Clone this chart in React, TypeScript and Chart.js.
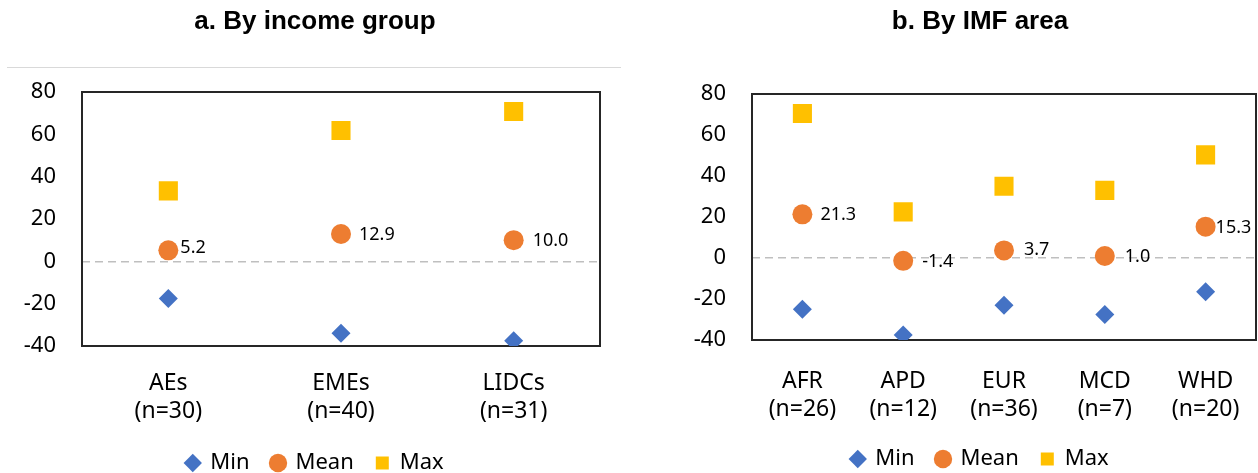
import React, { useEffect, useRef } from 'react';
import { Chart, registerables } from 'chart.js';

Chart.register(...registerables);

// ---------- data ----------
const seriesNames = ['Min', 'Mean', 'Max'];
const yMin = -40;
const yMax = 80;
const yStep = 20;

const incomeTitle = 'a. By income group';
const incomeCategories = ['AEs', 'EMEs', 'LIDCs'];
const incomeCounts = ['(n=30)', '(n=40)', '(n=31)'];
const incomeMin = [-17.5, -34.0, -37.5];
const incomeMean = [5.2, 12.9, 10.0];
const incomeMax = [33.3, 61.8, 70.8];

const areaTitle = 'b. By IMF area';
const areaCategories = ['AFR', 'APD', 'EUR', 'MCD', 'WHD'];
const areaCounts = ['(n=26)', '(n=12)', '(n=36)', '(n=7)', '(n=20)'];
const areaMin = [-25.0, -37.5, -23.0, -27.5, -16.5];
const areaMean = [21.3, -1.4, 3.7, 1.0, 15.3];
const areaMax = [70.5, 22.5, 35.0, 33.0, 50.3];

// ---------- styles ----------
const COLORS = ['#4472C4', '#ED7D31', '#FFC000'];
const STYLES = ['rectRot', 'circle', 'rect'];
const RADII = [9.5, 10, 13.5];
const FONT = "'Noto Sans', 'Open Sans', sans-serif";

type PanelCfg = {
  title: string;
  categories: string[];
  counts: string[];
  min: number[];
  mean: number[];
  max: number[];
  width: number;
  height: number;
  left: number;
  yAxisWidth: number;
  rightWidth: number;
  titleBox: number;
  xAxisHeight: number;
  xTickPadding: number;
  labelDx: number[];
  labelDy: number[];
  rule: boolean;
};

const panels: PanelCfg[] = [
  {
    title: incomeTitle,
    categories: incomeCategories,
    counts: incomeCounts,
    min: incomeMin,
    mean: incomeMean,
    max: incomeMax,
    width: 630,
    height: 484,
    left: 0,
    yAxisWidth: 82,
    rightWidth: 30,
    titleBox: 92,
    xAxisHeight: 84,
    xTickPadding: 23,
    labelDx: [12, 18, 19],
    labelDy: [-2, 1, 1],
    rule: true,
  },
  {
    title: areaTitle,
    categories: areaCategories,
    counts: areaCounts,
    min: areaMin,
    mean: areaMean,
    max: areaMax,
    width: 700,
    height: 480,
    left: 630,
    yAxisWidth: 122,
    rightWidth: 74,
    titleBox: 94,
    xAxisHeight: 86,
    xTickPadding: 27,
    labelDx: [18, 19, 20, 20, 10],
    labelDy: [1, 1, -1, 1, 1],
    rule: false,
  },
];

function Panel({ cfg }: { cfg: PanelCfg }) {
  const ref = useRef<HTMLCanvasElement | null>(null);

  useEffect(() => {
    if (!ref.current) return;
    const values = [cfg.min, cfg.mean, cfg.max];
    const titleFontSize = 26;
    const titleLH = titleFontSize * 1.2;
    const titleTop = 22 - titleLH / 2;

    const framePlugin = {
      id: 'frame',
      beforeDatasetsDraw(chart: any) {
        const { ctx, chartArea } = chart;
        ctx.save();
        ctx.strokeStyle = '#262626';
        ctx.lineWidth = 2;
        ctx.strokeRect(chartArea.left, chartArea.top, chartArea.right - chartArea.left, chartArea.bottom - chartArea.top);
        ctx.restore();
      },
      afterDraw(chart: any) {
        if (!cfg.rule) return;
        const { ctx } = chart;
        ctx.save();
        ctx.strokeStyle = '#D9D9D9';
        ctx.lineWidth = 1;
        ctx.beginPath();
        ctx.moveTo(7, 67.5);
        ctx.lineTo(621, 67.5);
        ctx.stroke();
        ctx.restore();
      },
    };

    const labelPlugin = {
      id: 'meanLabels',
      afterDatasetsDraw(chart: any) {
        const meta = chart.getDatasetMeta(1);
        const { ctx } = chart;
        ctx.save();
        ctx.font = `18px ${FONT}`;
        ctx.fillStyle = '#000000';
        ctx.textAlign = 'left';
        ctx.textBaseline = 'middle';
        meta.data.forEach((pt: any, i: number) => {
          ctx.fillText(cfg.mean[i].toFixed(1), pt.x + cfg.labelDx[i], pt.y + cfg.labelDy[i]);
        });
        ctx.restore();
      },
    };

    const chart = new Chart(ref.current, {
      type: 'line',
      data: {
        labels: cfg.categories.map((c, i) => [c, cfg.counts[i]]),
        datasets: seriesNames.map((name, k) => ({
          label: name,
          data: values[k],
          showLine: false,
          pointStyle: STYLES[k] as any,
          pointRadius: RADII[k],
          pointHoverRadius: RADII[k],
          pointBackgroundColor: COLORS[k],
          pointBorderColor: COLORS[k],
          pointBorderWidth: 0,
          backgroundColor: COLORS[k],
          borderColor: COLORS[k],
          borderWidth: 0,
          yAxisID: 'y',
        })),
      },
      options: {
        responsive: false,
        animation: false,
        devicePixelRatio: 1,
        layout: { padding: 0 },
        plugins: {
          tooltip: { enabled: false },
          title: {
            display: true,
            text: cfg.title,
            color: '#000000',
            font: { family: "'Liberation Sans', Arial, sans-serif", size: titleFontSize, weight: 'bold', lineHeight: 1.2 },
            padding: { top: titleTop, bottom: cfg.titleBox - titleTop - titleLH },
          },
          legend: {
            display: true,
            position: 'bottom',
            labels: {
              usePointStyle: true,
              boxWidth: 13,
              boxHeight: 13,
              padding: 22,
              color: '#000000',
              font: { family: FONT, size: 22 },
            },
          },
        },
        scales: {
          x: {
            type: 'category',
            offset: true,
            grid: { display: false, drawTicks: false, tickLength: 0 },
            border: { display: false },
            ticks: {
              color: '#000000',
              padding: cfg.xTickPadding,
              maxRotation: 0,
              autoSkip: false,
              font: { family: FONT, size: 23, lineHeight: 28 / 23 },
            },
            afterFit(scale: any) {
              scale.height = cfg.xAxisHeight;
            },
          },
          y: {
            position: 'left',
            min: yMin,
            max: yMax,
            grid: {
              display: true,
              drawTicks: false,
              tickLength: 0,
              lineWidth: 1.5,
              color: (c: any) => (c.tick && c.tick.value === 0 ? '#BFBFBF' : 'rgba(0,0,0,0)'),
            },
            border: { display: false, dash: [8, 5] },
            ticks: {
              stepSize: yStep,
              color: '#000000',
              padding: 26,
              font: { family: FONT, size: 22 },
            },
            afterFit(scale: any) {
              scale.width = cfg.yAxisWidth;
            },
          },
          y2: {
            position: 'right',
            display: true,
            grid: { display: false, drawTicks: false, tickLength: 0 },
            border: { display: false },
            ticks: { display: false },
            afterFit(scale: any) {
              scale.width = cfg.rightWidth;
            },
          },
        },
      } as any,
      plugins: [framePlugin, labelPlugin],
    });

    return () => chart.destroy();
  }, [cfg]);

  return (
    <canvas
      ref={ref}
      width={cfg.width}
      height={cfg.height}
      style={{ position: 'absolute', left: cfg.left, top: 0, width: cfg.width, height: cfg.height }}
    />
  );
}

export default function App() {
  return (
    <div
      style={{
        position: 'fixed',
        left: 0,
        top: 0,
        width: 1258,
        height: 473,
        overflow: 'hidden',
        background: '#ffffff',
      }}
    >
      {panels.map((p, i) => (
        <Panel key={i} cfg={p} />
      ))}
    </div>
  );
}
